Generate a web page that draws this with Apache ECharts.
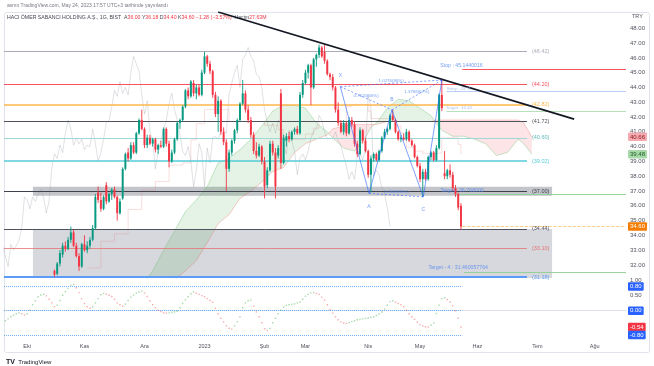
<!DOCTYPE html>
<html><head><meta charset="utf-8">
<script src="https://cdn.jsdelivr.net/npm/echarts@6/dist/echarts.min.js"></script>
<style>html,body{margin:0;padding:0;background:#fff;}#c{width:654px;height:366px;}</style>
</head><body><div id="c"></div>
<script>
// ---------- DATA ----------
const FIRST = 18; // bar index of first visible candle
const opens = [
31.6,31.4,32.1,32.7,33.3,33.1,33.7,34.2,33.3,32.6,
31.9,33.4,33.0,33.3,33.7,34.5,36.9,36.4,35.8,37.4,
36.3,36.8,37.1,36.6,35.5,36.5,38.5,39.6,39.2,40.1,
39.6,40.9,41.8,41.2,40.1,40.6,40.2,40.5,39.8,40.1,
40.0,41.2,40.2,39.0,39.6,40.5,41.6,41.8,42.7,43.8,
43.4,44.3,43.6,44.0,43.5,45.0,46.1,45.6,45.1,43.5,
42.2,43.1,41.0,40.3,38.5,39.6,40.4,41.1,41.8,42.9,
43.6,42.5,41.8,40.8,39.7,39.4,40.0,39.0,37.4,38.4,
40.2,39.6,39.4,43.6,38.9,40.4,40.7,40.5,41.0,41.2,
40.9,43.5,44.3,45.0,45.5,44.0,45.9,46.2,46.7,46.4,
45.8,44.9,44.7,44.0,42.5,41.6,41.0,41.6,40.9,41.8,
41.5,40.2,39.5,41.1,40.4,39.7,38.1,39.2,39.5,39.1,
39.7,40.6,41.0,41.2,42.1,41.8,41.0,40.5,40.6,40.5,
41.0,40.4,40.1,39.3,38.7,37.8,38.3,37.8,39.3,39.6,
39.1,39.9,43.5,38.2,38.0,38.4,38.1,37.2,36.8,36.00];
const highs = [
31.7,32.2,33.0,33.5,33.6,33.9,34.6,34.4,33.5,32.8,
33.5,34.0,33.6,33.9,34.7,36.8,37.3,36.9,36.7,37.6,
36.9,37.2,37.3,36.7,36.5,38.6,39.6,39.9,40.3,40.3,
41.0,41.9,42.5,41.3,40.8,40.8,40.6,40.6,40.2,40.4,
41.3,41.3,40.4,39.8,40.6,41.7,41.9,42.8,43.9,44.0,
44.5,44.5,44.2,44.2,45.2,46.4,46.2,45.8,45.2,43.7,
43.4,43.2,41.3,40.5,39.8,40.5,41.2,41.9,43.0,44.5,
43.8,42.8,42.0,41.0,40.3,40.2,40.1,39.3,38.6,40.4,
40.4,39.9,40.1,43.9,40.8,40.9,41.0,41.1,41.3,41.4,
43.7,44.5,45.2,45.6,45.6,46.0,46.3,46.9,46.8,46.9,
45.9,45.0,44.9,44.1,43.0,41.8,41.8,41.7,42.0,42.0,
41.7,40.4,41.3,41.2,40.6,39.8,39.4,39.6,39.6,39.8,
40.7,41.2,41.3,42.2,42.5,41.9,41.1,40.8,40.9,41.2,
41.1,40.5,40.2,39.4,38.9,38.5,38.5,39.4,39.7,39.7,
40.1,43.6,44.6,39.7,38.5,38.8,38.3,37.4,36.9,36.18];
const lows = [
31.2,31.3,31.9,32.5,32.9,33.0,33.5,33.2,32.5,31.6,
31.8,32.9,32.8,33.1,33.6,34.4,36.2,35.6,35.7,36.1,
36.2,36.4,36.5,35.0,35.4,36.4,38.4,39.0,39.1,39.5,
39.5,40.8,41.1,39.9,39.9,40.1,40.0,39.6,39.5,39.9,
39.9,40.0,38.6,38.9,39.5,40.4,41.2,41.7,42.6,43.2,
43.3,43.4,43.2,43.4,43.4,44.9,45.4,44.9,43.3,42.0,
41.0,40.8,40.1,37.0,38.3,39.4,40.2,40.9,41.7,42.8,
42.3,41.6,40.6,39.5,39.2,39.3,38.8,36.5,37.2,38.3,
39.4,36.5,39.2,38.5,38.8,40.0,40.3,40.4,40.8,40.8,
40.8,43.3,44.2,44.6,42.8,43.9,45.4,46.0,46.0,45.6,
44.8,44.5,43.8,42.3,41.4,40.9,40.8,40.7,40.8,41.3,
40.0,39.3,39.4,40.2,39.6,37.9,36.9,39.0,39.0,39.0,
39.6,40.5,40.8,41.1,41.7,40.9,40.4,40.3,40.4,40.4,
40.3,40.0,39.2,38.6,37.6,36.6,37.7,37.7,39.1,39.0,
39.0,39.8,42.4,37.8,37.8,37.9,37.0,36.6,35.7,34.40];
const closes = [
31.35,32.1,32.8,33.3,33.1,33.7,34.2,33.3,32.6,31.9,
33.4,33.0,33.3,33.7,34.5,36.6,36.4,35.8,36.6,36.3,
36.8,37.1,36.6,35.5,36.3,38.5,39.5,39.2,40.1,39.6,
40.9,41.8,41.2,40.1,40.6,40.2,40.5,39.8,40.1,40.0,
41.2,40.2,39.0,39.6,40.5,41.6,41.8,42.7,43.8,43.4,
44.4,43.6,44.0,43.5,45.0,46.1,45.6,45.1,43.5,42.2,
43.1,41.0,40.3,38.5,39.6,40.4,41.1,41.8,42.9,43.6,
42.5,41.8,40.8,39.7,39.4,40.0,39.0,37.3,38.4,40.2,
39.6,37.3,39.9,38.9,40.6,40.7,40.5,41.0,41.2,40.9,
43.5,44.3,45.0,45.5,44.0,45.9,46.2,46.7,46.1,45.8,
44.9,44.7,44.0,42.5,41.6,41.0,41.6,40.9,41.8,41.5,
40.2,39.5,41.1,40.4,39.7,38.1,39.2,39.5,39.1,39.7,
40.6,41.0,41.2,42.1,41.8,41.0,40.5,40.6,40.5,41.0,
40.4,40.1,39.3,38.7,37.8,38.3,37.8,39.3,39.6,39.1,
39.9,43.5,42.6,38.0,38.4,38.1,37.2,36.8,35.88,34.60];
const volumeText = '27.63M';

// Ichimoku leading spans (displaced)
const spanIdx = [46,50,54,58,62,66,70,74,78,82,86,90,94,98,102,106,110,114,118,120,124,128,132,134,136,140,144,148,152,156,158,160,164,168,172,176,180,184,188,190,193];
const spanA = [29.6,30.6,31.6,33.0,34.3,35.6,36.4,37.3,38.9,39.2,39.8,40.5,41.4,42.4,42.8,42.8,42.6,41.6,41.0,40.6,39.9,39.7,40.6,41.3,41.6,42.6,43.2,43.1,42.6,42.1,41.6,41.1,40.7,40.7,40.5,40.2,39.4,39.6,40.5,40.2,39.48];
const spanB = [29.3,29.5,29.8,30.4,31.0,31.6,32.3,33.5,34.8,35.4,36.5,37.0,37.6,38.3,38.6,39.6,40.2,40.5,40.8,41.2,41.4,41.5,41.5,41.5,41.5,41.7,41.7,41.7,41.7,41.7,41.8,41.8,41.8,41.8,41.8,41.8,41.8,41.8,41.8,41.6,40.66];
const kijunIdx = [30,35,40,45,50,55,60,65,68,70,73,80,82,95,100,102,108,110,113,115,124,125,127,133,134,141,143,145,146,147,150,153,159,160,165,166,167];
const kijunVal = [31.8,33.6,34.1,35.75,37.05,37.65,38.75,38.9,40.45,41.55,42.5,42.5,41.7,41.45,41.15,40.5,40.5,40.85,41.25,41.7,41.7,42.7,42.85,42.4,41.9,41.9,41.4,40.9,40.5,39.95,39.7,39.55,39.55,40.6,40.6,40.15,39.5];
const LAG = 26;

// horizontal levels
const levelVals = [46.42,44.20,42.82,41.72,40.60,39.02,37.00,34.44,33.10,31.18];
const boxTop = 34.44, band37 = [36.68,37.29];

// trade annotations
const stopVal = 45.2, entryVal = 43.71, target1Val = 42.40, target2Val = 36.75, target4Val = 31.52;
const annoTexts = ['Stop : 45.1440016','Entry : 43.71','Target : 42.43','Target : 36.768000','Target - 4 : 31.460057764'];
const annoPos = [[167.2,45.45],[166.3,43.89],[166.3,42.62],[167.4,37.02],[166,31.8]];

// trend line
const trendIdx = [78,208.5], trendVal = [49.1,41.86];

// XABCD pattern
const xabcdIdx = [122.8,133.3,141.7,153.2,160.0];
const xabcdVal = [44.05,36.84,42.48,36.6,44.5];
const xabcdNames = ['X','A','B','C'];
const ratioTexts = ['0.7620(56%)','1.0548(85%)','1.3768(67%)','1.0276(86%)'];
const ratioPairs = [[0,2],[1,3],[2,4],[0,4]];

// oscillator (lower pane), one value per bar from index 0
const osc = [
-0.33,-0.27,-0.20,-0.15,-0.10,-0.07,-0.10,-0.14,-0.10,0.02,
0.20,0.33,0.46,0.52,0.54,0.49,0.38,0.26,0.13,0.18,
0.34,0.51,0.63,0.74,0.84,0.87,0.76,0.60,0.40,0.24,
0.13,0.08,0.12,0.26,0.40,0.53,0.57,0.55,0.51,0.47,
0.38,0.26,0.20,0.15,0.22,0.34,0.45,0.52,0.58,0.62,
0.65,0.58,0.47,0.32,0.20,0.10,0.02,-0.03,-0.07,-0.08,
-0.07,-0.05,-0.04,-0.02,0.10,0.24,0.36,0.46,0.56,0.62,
0.58,0.54,0.50,0.46,0.40,0.34,0.28,0.08,-0.10,-0.25,
-0.37,-0.50,-0.58,-0.61,-0.50,-0.36,-0.20,0.10,0.26,0.33,
0.35,0.15,-0.04,-0.20,-0.40,-0.60,-0.66,-0.59,-0.40,-0.25,
-0.10,0.02,0.12,0.18,0.20,0.21,0.23,0.26,0.29,0.38,
0.48,0.54,0.59,0.60,0.57,0.54,0.45,0.35,0.20,0.04,
-0.08,-0.20,-0.30,-0.37,-0.41,-0.42,-0.39,-0.36,-0.33,-0.30,
-0.29,-0.27,-0.25,-0.24,-0.22,-0.20,-0.16,-0.11,-0.04,0.06,
0.18,0.30,0.33,0.28,0.24,0.20,0.13,0.02,-0.10,-0.20,
-0.28,-0.38,-0.46,-0.50,-0.53,-0.54,-0.48,-0.40,-0.09,0.18,
0.40,0.43,0.37,0.29,0.16,0.00,-0.25,-0.54];
const oscLevels = [0.8,0,-0.8];

// axes
const monthIdx = [8,29,51,73,95,110,133,152,173,195,216];
const monthLabels = ['Eki','Kas','Ara','2023','Şub','Mar','Nis','May','Haz','Tem','Ağu'];
const priceTicks = [32,33,34,35,36,37,38,39,40,41,42,43,44,45,46,47,48];
const oscTicks = [1.0,0.5];

// ---------- STYLE ----------
const FONT = 'Liberation Sans, Arial, sans-serif';
const UP = '#089981', DOWN = '#f23645';
const X_MIN = -0.5, X_MAX = 227.5;
const LEVEL_END = 191.2, BOX_X0 = 10.1, BOX_X1 = 200.4;
const levelColors = ['#a9acb6','#f7525f','#ffb74d','#50535e','#9fd6d6','#56cbd8','#3f4350','#50535e','#e57373','#5b9cf6'];
const levelWidths = [1,1,1.6,1,1,1.6,1,1,0.8,2];
const PAT = 'rgba(41,98,255,0.75)';
const TXT_BLUE = '#4f86f0';

const n = closes.length;
const lastIdx = FIRST + n - 1;

const candleData = closes.map((c,k)=>[FIRST+k, opens[k], c, lows[k], highs[k]]);

function candleItem(params, api){
  const x = api.value(0), o = api.value(1), c = api.value(2), l = api.value(3), h = api.value(4);
  const pO = api.coord([x,o]), pC = api.coord([x,c]), pL = api.coord([x,l]), pH = api.coord([x,h]);
  const w = Math.max(1, api.size([1,0])[0]*0.72);
  const col = c >= o ? UP : DOWN;
  const top = Math.min(pO[1], pC[1]);
  const ht = Math.max(Math.abs(pO[1]-pC[1]), 0.8);
  return {type:'group', children:[
    {type:'line', shape:{x1:pL[0], y1:pL[1], x2:pH[0], y2:pH[1]}, style:{stroke:col, lineWidth:0.9}},
    {type:'rect', shape:{x:pO[0]-w/2, y:top, width:w, height:ht}, style:{fill:col}}
  ]};
}

function cloudItem(params, api){
  const k = params.dataIndex;
  const x0 = spanIdx[k], x1 = spanIdx[k+1];
  const a0 = spanA[k], a1 = spanA[k+1], b0 = spanB[k], b1 = spanB[k+1];
  const d0 = a0-b0, d1 = a1-b1;
  const mk = (pts, up) => ({type:'polygon', shape:{points: pts.map(p=>api.coord(p))},
    style:{fill: up ? 'rgba(76,175,80,0.15)' : 'rgba(242,54,69,0.13)'}});
  const ch = [];
  if (d0*d1 < 0){
    const t = d0/(d0-d1), xm = x0+t*(x1-x0), ym = a0+t*(a1-a0);
    ch.push(mk([[x0,a0],[xm,ym],[x0,b0]], d0>0));
    ch.push(mk([[xm,ym],[x1,a1],[x1,b1]], d1>0));
  } else {
    ch.push(mk([[x0,a0],[x1,a1],[x1,b1],[x0,b0]], (d0+d1)>=0));
  }
  const cs = params.coordSys;
  return {type:'group', children:ch, clipPath:{type:'rect', shape:{x:cs.x, y:cs.y, width:cs.width, height:cs.height}}};
}

function hline(x0, x1, v, color, width, type){
  return [{coord:[x0,v], lineStyle:{color:color, width:width, type:type||'solid'}, label:{show:false}}, {coord:[x1,v]}];
}
function badge(x0, v, text, bg, fg, lineColor, lineWidth){
  return [{coord:[x0,v], lineStyle:{color:lineColor||'rgba(0,0,0,0)', width:lineWidth||1},
    label:{show:true, position:'end', distance:2, formatter:text, backgroundColor:bg, color:fg,
      fontSize:6, padding:[1.5,2,1,2], borderRadius:1, fontFamily:FONT}}, {coord:[X_MAX,v]}];
}

const textItems = [];
annoTexts.forEach((t,k)=>textItems.push({name:t, value:annoPos[k], label:{color: k===1||k===2 ? '#93aee6' : TXT_BLUE, fontSize: k===1||k===2 ? 4.2 : 5.2}}));
const letterOffsets = [[0,-11],[0,13],[0,-10],[0,13]];
xabcdNames.forEach((t,k)=>textItems.push({name:t, value:[xabcdIdx[k], xabcdVal[k]], label:{color:TXT_BLUE, fontSize:5, offset:letterOffsets[k]}}));
ratioPairs.forEach((p,k)=>{
  const a = p[0], b = p[1];
  textItems.push({name:ratioTexts[k], value:[(xabcdIdx[a]+xabcdIdx[b])/2, (xabcdVal[a]+xabcdVal[b])/2], label:{color:TXT_BLUE, fontSize:4.4, offset:[0,-3]}});
});

const oscData = osc.map((v,i)=>({value:[i,v], itemStyle:{color: (i>0 && v<osc[i-1]) ? 'rgba(239,83,80,0.6)' : 'rgba(76,175,80,0.6)'}}));

const prevClose = closes[n-2];
const chg = closes[n-1]-prevClose;
const pct = chg/prevClose*100;
const titleText = '{n|HACI ÖMER SABANCI HOLDİNG A.Ş., 1G, BIST}  {k|A}{v|'+opens[n-1].toFixed(2)+'} {k|Y}{v|'+highs[n-1].toFixed(2)+'} {k|D}{v|'+lows[n-1].toFixed(2)+'} {k|K}{v|'+closes[n-1].toFixed(2)+'} {v|'+(chg<0?'−':'+')+Math.abs(chg).toFixed(2)+' ('+(chg<0?'−':'+')+Math.abs(pct).toFixed(2)+'%)}  {k|Hacim}{v|'+volumeText+'}';

const option = {
  animation:false,
  backgroundColor:'#ffffff',
  textStyle:{fontFamily:FONT},
  grid:[{left:4, right:28, top:12, height:266},{left:4, right:28, top:279, height:58}],
  xAxis:[
    {type:'value', gridIndex:0, min:X_MIN, max:X_MAX, show:false},
    {type:'value', gridIndex:1, min:X_MIN, max:X_MAX, splitLine:{show:false}, axisTick:{show:false},
     axisLine:{show:true, lineStyle:{color:'#e0e3eb'}},
     axisLabel:{customValues:monthIdx, formatter:function(v){const k = monthIdx.indexOf(Math.round(v)); return k>=0 ? monthLabels[k] : '';},
       fontSize:5.5, color:'#50535e', margin:6, fontFamily:FONT}}
  ],
  yAxis:[
    {type:'value', gridIndex:0, position:'right', min:31.12, max:49.10, splitLine:{show:false}, axisLine:{show:false}, axisTick:{show:false},
     axisLabel:{customValues:priceTicks, formatter:function(v){return v.toFixed(2);}, fontSize:6, color:'#50535e', margin:4, fontFamily:FONT}},
    {type:'value', gridIndex:1, position:'right', min:-0.87, max:1.05, splitLine:{show:false}, axisLine:{show:false}, axisTick:{show:false},
     axisLabel:{customValues:oscTicks, formatter:function(v){return v.toFixed(2);}, fontSize:6, color:'#50535e', margin:4, fontFamily:FONT}}
  ],
  series:[
    // cloud
    {type:'custom', xAxisIndex:0, yAxisIndex:0, z:1, silent:true, renderItem:cloudItem,
     data: spanIdx.slice(0,-1).map((x,k)=>[x, spanA[k], spanB[k]]), encode:{x:0, y:[1,2]}},
    {type:'line', xAxisIndex:0, yAxisIndex:0, z:2, silent:true, symbol:'none', data: spanIdx.map((x,k)=>[x, spanA[k]]), lineStyle:{color:'rgba(102,187,106,0.45)', width:0.8}},
    {type:'line', xAxisIndex:0, yAxisIndex:0, z:2, silent:true, symbol:'none', data: spanIdx.map((x,k)=>[x, spanB[k]]), lineStyle:{color:'rgba(239,83,80,0.35)', width:0.8}},
    // kijun & lagging
    {type:'line', xAxisIndex:0, yAxisIndex:0, z:2, silent:true, symbol:'none', step:'end', data: kijunIdx.map((x,k)=>[x, kijunVal[k]]), lineStyle:{color:'rgba(229,115,115,0.3)', width:0.8}},
    {type:'line', xAxisIndex:0, yAxisIndex:0, z:2, silent:true, symbol:'none', data: closes.map((c,k)=>[FIRST+k-LAG, c]), lineStyle:{color:'rgba(150,155,165,0.38)', width:0.8}},
    // candles
    {type:'custom', xAxisIndex:0, yAxisIndex:0, z:5, silent:true, renderItem:candleItem, data:candleData, encode:{x:0, y:[1,2,3,4]}},
    // box + band + levels
    {type:'line', xAxisIndex:0, yAxisIndex:0, z:6, silent:true, data:[],
     markArea:{silent:true, data:[
       [{coord:[BOX_X0, boxTop], itemStyle:{color:'rgba(134,138,152,0.33)'}}, {coord:[BOX_X1, 31.12]}],
       [{coord:[BOX_X0, band37[0]], itemStyle:{color:'rgba(112,116,128,0.42)'}}, {coord:[BOX_X1, band37[1]]}]
     ]},
     markLine:{symbol:'none', silent:true, data: levelVals.map((v,k)=>[
       {coord:[X_MIN, v], lineStyle:{color:levelColors[k], width:levelWidths[k], type:'solid'},
        label:{show:true, position:'end', distance:5, formatter:'('+v.toFixed(2)+')', color:levelColors[k]==='#9fd6d6'?'#5fb8b8':levelColors[k], fontSize:5.5, fontFamily:FONT}},
       {coord:[LEVEL_END, v]}
     ])}},
    // trade annotation lines
    {type:'line', xAxisIndex:0, yAxisIndex:0, z:7, silent:true, data:[],
     markLine:{symbol:'none', silent:true, data:[
       hline(lastIdx+0.5, X_MAX, stopVal, '#f7525f', 1.2),
       hline(161.7, X_MAX, entryVal, '#bcd0f7', 1),
       hline(161.7, X_MAX, target1Val, '#b9dfbb', 1),
       hline(165, X_MAX, target2Val, '#8fcf92', 0.9),
       hline(lastIdx+1, X_MAX, target4Val, '#8fcf92', 0.9)
     ]}},
    // trend line
    {type:'line', xAxisIndex:0, yAxisIndex:0, z:8, silent:true, symbol:'none', data: trendIdx.map((x,k)=>[x, trendVal[k]]), lineStyle:{color:'#131722', width:1.6}},
    // XABCD
    {type:'line', xAxisIndex:0, yAxisIndex:0, z:8, silent:true, symbol:'none', data: xabcdIdx.map((x,k)=>[x, xabcdVal[k]]), lineStyle:{color:PAT, width:0.8}},
    ...ratioPairs.map(p=>({type:'line', xAxisIndex:0, yAxisIndex:0, z:8, silent:true, symbol:'none',
      data:[[xabcdIdx[p[0]], xabcdVal[p[0]]],[xabcdIdx[p[1]], xabcdVal[p[1]]]], lineStyle:{color:PAT, width:0.8, type:[2,2]}})),
    // texts
    {type:'scatter', xAxisIndex:0, yAxisIndex:0, z:9, silent:true, symbolSize:0, data:textItems,
     label:{show:true, position:'inside', formatter:function(p){return p.name;}, fontFamily:FONT}},
    // price badges
    {type:'line', xAxisIndex:0, yAxisIndex:0, z:10, silent:true, data:[],
     markLine:{symbol:'none', silent:true, data:[
       badge(lastIdx+0.5, closes[n-1], closes[n-1].toFixed(2), '#f57c00', '#ffffff', 'rgba(255,152,0,0.6)', 0.8),
       badge(X_MAX-0.1, spanB[spanB.length-1], spanB[spanB.length-1].toFixed(2), '#f5aab0', '#8e1b24'),
       badge(X_MAX-0.1, spanA[spanA.length-1], spanA[spanA.length-1].toFixed(2), '#a9d9ab', '#1b5e20')
     ]}},
    // oscillator
    {type:'scatter', xAxisIndex:1, yAxisIndex:1, z:5, silent:true, symbol:'rect', symbolSize:1.4, data:oscData,
     markLine:{symbol:'none', silent:true, data: oscLevels.map(v=>hline(X_MIN, lastIdx+0.5, v, '#6fb1f2', 1, [1,1]))}},
    {type:'line', xAxisIndex:1, yAxisIndex:1, z:10, silent:true, data:[],
     markLine:{symbol:'none', silent:true, data:[
       badge(X_MAX-0.1, oscLevels[0], oscLevels[0].toFixed(2), '#2962ff', '#ffffff'),
       badge(X_MAX-0.1, oscLevels[1], oscLevels[1].toFixed(2), '#2962ff', '#ffffff'),
       badge(X_MAX-0.1, osc[osc.length-1], osc[osc.length-1].toFixed(2), '#f23645', '#ffffff'),
       badge(X_MAX-0.1, oscLevels[2], oscLevels[2].toFixed(2), '#2962ff', '#ffffff')
     ]}}
  ],
  graphic:[
    {type:'rect', z:-1, shape:{x:4.5, y:12.5, width:645, height:340, r:2}, style:{fill:'none', stroke:'#e0e3eb', lineWidth:1}},
    {type:'text', left:7, top:3, style:{text:'asmn TradingView.com, May 24, 2023 17:57 UTC+3 tarihinde yayınlandı', fontSize:5, fill:'#787b86', fontFamily:FONT}},
    {type:'text', left:7, top:15, style:{text:titleText, fontFamily:FONT, fontSize:5.2,
      rich:{n:{fill:'#434651', fontSize:5.2, fontFamily:FONT}, k:{fill:'#434651', fontSize:5.2, fontFamily:FONT}, v:{fill:'#f23645', fontSize:5.2, fontFamily:FONT}}}},
    {type:'text', left:632, top:13, style:{text:'TRY', fontSize:5.5, fill:'#50535e', fontFamily:FONT}},
    {type:'text', left:6, top:356, style:{text:'{b|TV} {t|TradingView}', rich:{b:{fontSize:7, fontWeight:'bold', fill:'#131722', fontFamily:FONT}, t:{fontSize:6, fill:'#131722', fontFamily:FONT}}}}
  ]
};

const chart = echarts.init(document.getElementById('c'), null, {renderer:'canvas', width:654, height:366});
chart.setOption(option);
</script>
</body></html>
